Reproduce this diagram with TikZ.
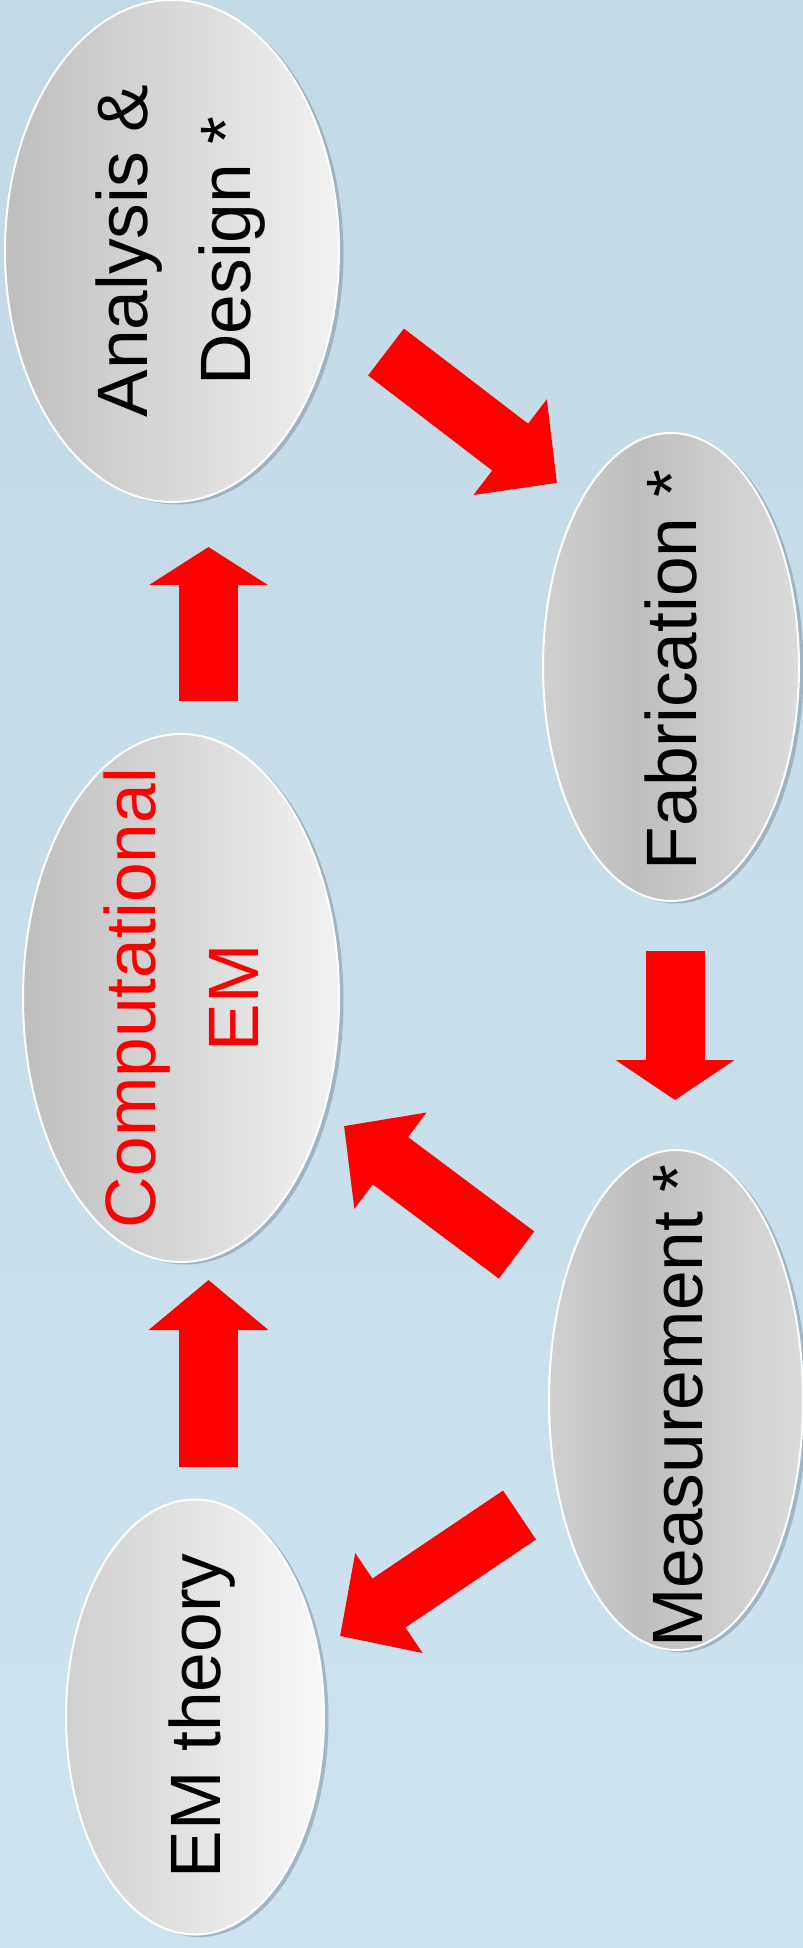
\documentclass[tikz,border=0pt]{standalone}
\usepackage{fontspec}
\setmainfont{Liberation Sans}
\usepackage{tikz}
\usetikzlibrary{shapes.geometric, arrows.meta, shadows}
\definecolor{hgoben}{RGB}{195,217,229}
\definecolor{hgunten}{RGB}{205,227,239}
\definecolor{rot}{RGB}{255,0,0}
\definecolor{schatten}{RGB}{128,148,160}
\definecolor{grauDunkel}{RGB}{190,190,190}
\definecolor{grauMittel}{RGB}{208,208,208}
\definecolor{grauHell}{RGB}{242,242,242}
\definecolor{grauRechts}{RGB}{220,220,220}
\definecolor{fastweiss}{RGB}{248,248,248}

% Verlauf hell - dunkel - hell (Fabrication, Measurement)
\pgfdeclarehorizontalshading{mittelgrau}{100bp}{color(0bp)=(grauMittel); color(25bp)=(grauMittel); color(43bp)=(grauDunkel); color(75bp)=(grauRechts); color(100bp)=(grauRechts)}

\tikzset{
  ellipsenknoten/.style={ellipse, draw=white, line width=0.2mm, inner sep=0pt,
    drop shadow={shadow xshift=0.45mm, shadow yshift=-0.25mm, opacity=0.55, fill=schatten}},
  beschriftung/.style={rotate=90, font=\fontsize{20.3}{29.3}\selectfont, align=center, inner sep=0pt},
  blockpfeil/.style={rot, line width=5.9mm, -{Triangle[length=#1, width=11.7mm]}},
  blockpfeil/.default=5.9mm
}

\begin{document}
\begin{tikzpicture}[x=0.1mm, y=-0.1mm]
        % Hintergrund
        \useasboundingbox (0,0) rectangle (803,1948);
        \shade[top color=hgoben, bottom color=hgunten] (0,0) rectangle (803,1948);

        % Ellipsen
        \node[ellipsenknoten, minimum width=33.4mm, minimum height=50.2mm, left color=grauDunkel, right color=grauHell] (ana) at (172,251) {};
        \node[ellipsenknoten, minimum width=25.6mm, minimum height=46.8mm, shading=mittelgrau] (fab) at (671,667) {};
        \node[ellipsenknoten, minimum width=31.6mm, minimum height=52.8mm, left color=grauDunkel, right color=grauHell] (comp) at (181,998) {};
        \node[ellipsenknoten, minimum width=25.4mm, minimum height=50.0mm, shading=mittelgrau] (mess) at (676,1400) {};
        \node[ellipsenknoten, minimum width=25.8mm, minimum height=43.5mm, left color=grauMittel, right color=fastweiss] (emt) at (195,1717) {};

        % Beschriftungen
        \node[beschriftung] (ana-t) at (181,251) {Analysis \&\\Design *};
        \node[beschriftung] (fab-t) at (671,670) {Fabrication *};
        \node[beschriftung, text=rot] (comp-t) at (181,998) {Computational\\EM};
        \node[beschriftung] (mess-t) at (678,1406) {Measurement *};
        \node[beschriftung] (emt-t) at (202,1716) {EM theory};

        % Pfeilenden
        \coordinate (anaAus) at (386,352);
        \coordinate (fabEin) at (557,483);
        \coordinate (fabAus) at (675,951);
        \coordinate (messEin) at (675,1100);
        \coordinate (messAusA) at (516.5,1255);
        \coordinate (compEinA) at (344,1126);
        \coordinate (messAusB) at (519.5,1515);
        \coordinate (emtEin) at (340,1636);
        \coordinate (emtAus) at (208.5,1467);
        \coordinate (compEinB) at (208.5,1280);
        \coordinate (compAus) at (208.5,701);
        \coordinate (anaEin) at (208.5,547);

        % Pfeile
        \draw[blockpfeil] (anaAus) -- (fabEin);
        \draw[blockpfeil=4mm] (fabAus) -- (messEin);
        \draw[blockpfeil=5.8mm] (messAusA) -- (compEinA);
        \draw[blockpfeil] (messAusB) -- (emtEin);
        \draw[blockpfeil=5mm] (emtAus) -- (compEinB);
        \draw[blockpfeil=3.8mm] (compAus) -- (anaEin);
\end{tikzpicture}
\end{document}
